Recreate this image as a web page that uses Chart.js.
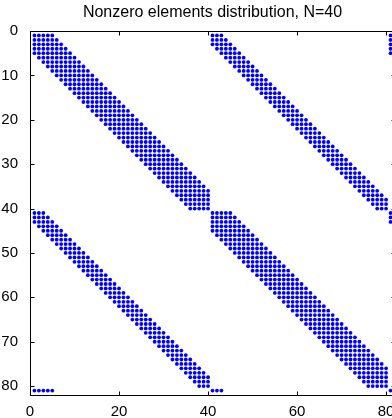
<!DOCTYPE html>
<html>
<head>
<meta charset="utf-8">
<script src="https://cdn.jsdelivr.net/npm/chart.js@4.4.0/dist/chart.umd.min.js"></script>
<style>
html, body { margin: 0; padding: 0; background: #fff; overflow: hidden; }
#wrap { width: 400px; height: 418px; }
</style>
</head>
<body>
<div id="wrap"><canvas id="chartSpy"></canvas></div>
<script>
// ===== Sparsity pattern (spy) of the 81x81 matrix, N=40 =====

// first / last nonzero column of each row inside a 40x40 block (wide band)
const wideFirst = [1, 1, 1, 1, 1, 2, 3, 4, 5, 6, 7, 8, 9, 10, 11, 12, 13, 14, 15, 16,
                   17, 18, 19, 20, 21, 22, 23, 24, 25, 26, 27, 28, 29, 30, 31, 32, 33, 34, 35, 36];
const wideLast  = [5, 6, 7, 8, 9, 10, 11, 12, 13, 14, 15, 16, 17, 18, 19, 20, 21, 22, 23, 24,
                   25, 26, 27, 28, 29, 30, 31, 32, 33, 34, 35, 36, 37, 38, 39, 40, 40, 40, 40, 40];

// same for the off-diagonal blocks (narrow band)
const narrowFirst = [1, 1, 1, 2, 3, 4, 5, 6, 7, 8, 9, 10, 11, 12, 13, 14, 15, 16, 17, 18,
                     19, 20, 21, 22, 23, 24, 25, 26, 27, 28, 29, 30, 31, 32, 33, 34, 35, 36, 37, 38];
const narrowLast  = [3, 4, 5, 6, 7, 8, 9, 10, 11, 12, 13, 14, 15, 16, 17, 18, 19, 20, 21, 22,
                     23, 24, 25, 26, 27, 28, 29, 30, 31, 32, 33, 34, 35, 36, 37, 38, 39, 40, 40, 40];

// last row (81) and last column (81)
const lastRowCols = [1, 2, 3, 4, 5, 41, 42, 43, 81];
const lastColRows = [1, 2, 3, 4, 5, 41, 42, 43];

// block offsets: [rowOffset, colOffset, band]
const blockRowOffsets = [0, 0, 40, 40];
const blockColOffsets = [0, 40, 0, 40];
const blockBands = ['wide', 'narrow', 'narrow', 'wide'];

const xTicks = [0, 20, 40, 60, 80];
const yTicks = [0, 10, 20, 30, 40, 50, 60, 70, 80];

// construir puntos
function construirPuntos() {
    const pts = [];
    for (let b = 0; b < blockBands.length; b++) {
        const first = blockBands[b] === 'wide' ? wideFirst : narrowFirst;
        const last = blockBands[b] === 'wide' ? wideLast : narrowLast;
        for (let k = 0; k < first.length; k++) {
            for (let c = first[k]; c <= last[k]; c++) {
                pts.push({ x: c + blockColOffsets[b], y: k + 1 + blockRowOffsets[b] });
            }
        }
    }
    lastRowCols.forEach(c => pts.push({ x: c, y: 81 }));
    lastColRows.forEach(r => pts.push({ x: 81, y: r }));
    return pts;
}

// marco con marcas hacia dentro en los cuatro lados
const framePlugin = {
    id: 'frame',
    afterDraw(chart) {
        const ctx = chart.ctx;
        const a = chart.chartArea;
        const xs = chart.scales.x, ys = chart.scales.y;
        const L = Math.round(a.left) + 0.5, R = Math.round(a.right) + 0.5;
        const T = Math.round(a.top) + 0.5, B = Math.round(a.bottom) + 0.5;
        const len = 4;
        ctx.save();
        ctx.strokeStyle = '#000';
        ctx.lineWidth = 1;
        ctx.strokeRect(L, T, R - L, B - T);
        ctx.beginPath();
        xTicks.forEach(v => {
            const px = Math.round(xs.getPixelForValue(v)) + 0.5;
            ctx.moveTo(px, B); ctx.lineTo(px, B - len);
            ctx.moveTo(px, T); ctx.lineTo(px, T + len);
        });
        yTicks.forEach(v => {
            const py = Math.round(ys.getPixelForValue(v)) + 0.5;
            ctx.moveTo(L, py); ctx.lineTo(L + len, py);
            ctx.moveTo(R, py); ctx.lineTo(R - len, py);
        });
        ctx.stroke();
        ctx.restore();
    }
};

const fuente = '"Liberation Sans", Arial, Helvetica, sans-serif';

new Chart(document.getElementById('chartSpy'), {
    type: 'scatter',
    data: {
        datasets: [{
            data: construirPuntos(),
            backgroundColor: '#0000ff',
            borderWidth: 0,
            pointRadius: 1.9,
            pointHoverRadius: 1.9
        }]
    },
    options: {
        responsive: true,
        maintainAspectRatio: false,
        animation: false,
        layout: { padding: { top: 0, left: 0, right: 5, bottom: 0 } },
        plugins: {
            legend: { display: false },
            tooltip: { enabled: false },
            title: {
                display: true,
                fullSize: false,
                text: 'Nonzero elements distribution, N=40',
                color: '#000',
                font: { family: fuente, size: 16, weight: 'normal' },
                padding: { top: 3.4, bottom: 8.4 }
            }
        },
        scales: {
            x: {
                type: 'linear',
                min: 0,
                max: 82,
                grid: { display: false },
                border: { display: false },
                afterBuildTicks: s => { s.ticks = xTicks.map(v => ({ value: v })); },
                afterFit: s => { s.height = 23; },
                ticks: {
                    color: '#000',
                    font: { family: fuente, size: 15 },
                    padding: 0,
                    maxRotation: 0,
                    autoSkip: false
                }
            },
            y: {
                type: 'linear',
                reverse: true,
                min: 0,
                max: 82,
                grid: { display: false },
                border: { display: false },
                afterBuildTicks: s => { s.ticks = yTicks.map(v => ({ value: v })); },
                afterFit: s => { s.width = 30; },
                ticks: {
                    color: '#000',
                    font: { family: fuente, size: 15 },
                    padding: 4,
                    autoSkip: false
                }
            }
        }
    },
    plugins: [framePlugin]
});
</script>
</body>
</html>
